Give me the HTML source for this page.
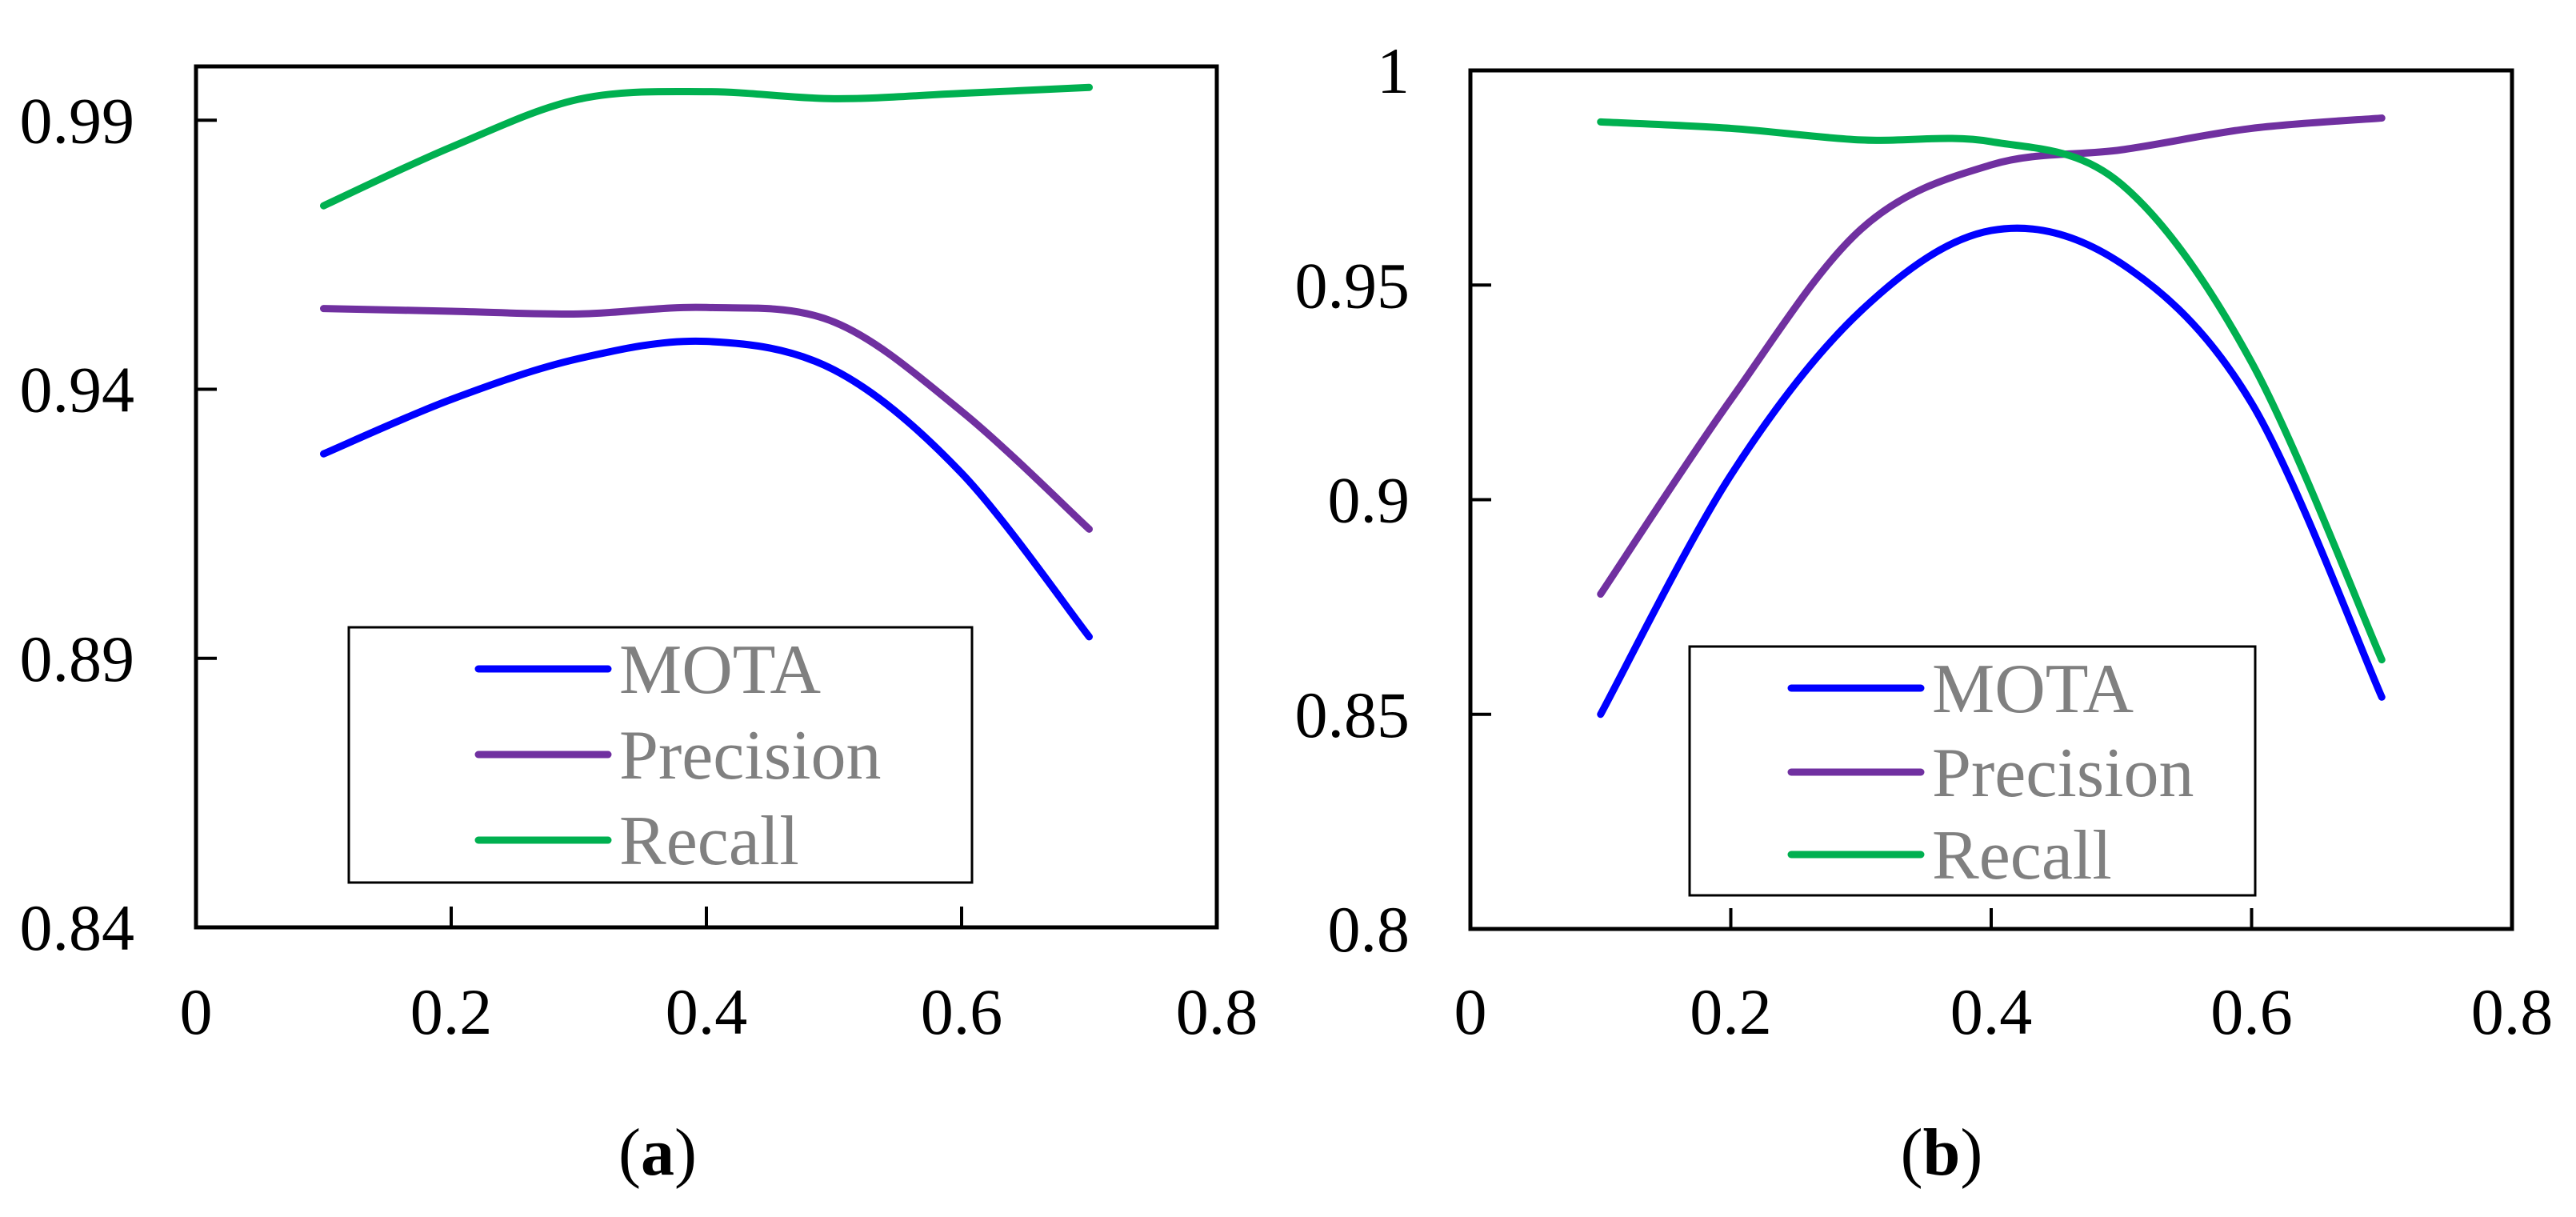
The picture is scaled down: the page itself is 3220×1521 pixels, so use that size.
<!DOCTYPE html>
<html><head><meta charset="utf-8"><style>
html,body{margin:0;padding:0;background:#fff;}
svg{display:block;}
text{font-family:"Liberation Serif",serif;}
</style></head><body>
<svg id="fig" width="3220" height="1521" viewBox="0 0 3220 1521"></svg>
<script>
const xTicks = [0, 0.2, 0.4, 0.6, 0.8];
const xLabels = ["0", "0.2", "0.4", "0.6", "0.8"];
const xVals = [0.1, 0.2, 0.3, 0.4, 0.5, 0.6, 0.7];
const seriesNames = ["MOTA", "Precision", "Recall"];
const aYTicks = [0.84, 0.89, 0.94, 0.99];
const aYLabels = ["0.84", "0.89", "0.94", "0.99"];
const aMota = [0.928, 0.9381, 0.9457, 0.9489, 0.9436, 0.9244, 0.894];
const aPrecision = [0.955, 0.9545, 0.954, 0.9552, 0.9525, 0.9359, 0.914];
const aRecall = [0.9741, 0.985, 0.9939, 0.9953, 0.994, 0.995, 0.9961];
const bYTicks = [0.8, 0.85, 0.9, 0.95, 1];
const bYLabels = ["0.8", "0.85", "0.9", "0.95", "1"];
const bMota = [0.850, 0.9057, 0.944, 0.9627, 0.955, 0.9225, 0.854];
const bPrecision = [0.878, 0.9233, 0.963, 0.978, 0.9815, 0.9865, 0.9889];
const bRecall = [0.988, 0.9865, 0.9838, 0.9834, 0.9735, 0.932, 0.8627];

const NS = "http://www.w3.org/2000/svg";
const svg = document.getElementById("fig");
const colors = ["#0000ff", "#7030a0", "#00b050"];
function mk(tag, attrs, parent) {
  const e = document.createElementNS(NS, tag);
  for (const k in attrs) e.setAttribute(k, attrs[k]);
  (parent || svg).appendChild(e);
  return e;
}
function smooth(pts) {
  let d = "M" + pts[0][0] + "," + pts[0][1];
  for (let i = 0; i < pts.length - 1; i++) {
    const p0 = pts[Math.max(i - 1, 0)], p1 = pts[i], p2 = pts[i + 1], p3 = pts[Math.min(i + 2, pts.length - 1)];
    const c1x = p1[0] + (p2[0] - p0[0]) / 6, c1y = p1[1] + (p2[1] - p0[1]) / 6;
    const c2x = p2[0] - (p3[0] - p1[0]) / 6, c2y = p2[1] - (p3[1] - p1[1]) / 6;
    d += " C" + c1x + "," + c1y + " " + c2x + "," + c2y + " " + p2[0] + "," + p2[1];
  }
  return d;
}
function panel(cfg) {
  const g = mk("g", {});
  
  
  const X = v => cfg.x0 + (v - 0) / 0.8 * (cfg.x1 - cfg.x0);
  const Y = v => cfg.yb - (v - cfg.ymin) / (cfg.ymax - cfg.ymin) * (cfg.yb - cfg.yt);
  cfg.series.forEach((vals, si) => {
    const pts = xVals.map((x, i) => [X(x), Y(vals[i])]);
    const p = mk("path", {d: smooth(pts), fill: "none", stroke: colors[si], "stroke-width": 9, "stroke-linecap": "round"}, g);
    
    
  });
  const box = mk("rect", {x: cfg.x0, y: cfg.yt, width: cfg.x1 - cfg.x0, height: cfg.yb - cfg.yt, fill: "none", stroke: "#000", "stroke-width": 5}, g);
  
  
  xTicks.forEach((t, i) => {
    const tk = mk("line", {x1: X(t), x2: X(t), y1: cfg.yb, y2: cfg.yb - 26, stroke: "#000", "stroke-width": 4}, g);
    
    
    const tx = mk("text", {x: X(t), y: 1292, "text-anchor": "middle", "font-size": 82}, g);
    tx.textContent = xLabels[i];
    
    
  });
  cfg.yTicks.forEach((t, i) => {
    const tk = mk("line", {x1: cfg.x0, x2: cfg.x0 + 26, y1: Y(t), y2: Y(t), stroke: "#000", "stroke-width": 4}, g);
    
    
    const tx = mk("text", {x: cfg.labelRight, y: Y(t) + 28, "text-anchor": "end", "font-size": 82}, g);
    tx.textContent = cfg.yLabels[i];
    
    
  });
  const L = cfg.legend;
  const lg = mk("g", {}, g);
  
  
  mk("rect", {x: L.x, y: L.y, width: L.w, height: L.h, fill: "#fff", stroke: "#000", "stroke-width": 3}, lg);
  seriesNames.forEach((n, i) => {
    const yy = L.ly[i];
    const ln = mk("line", {x1: L.lx0, x2: L.lx1, y1: yy, y2: yy, stroke: colors[i], "stroke-width": 9, "stroke-linecap": "round"}, lg);
    
    
    const tx = mk("text", {x: L.lx1 + 14, y: yy + 30, "font-size": 88, fill: "#808080"}, lg);
    tx.textContent = n;
    
    
  });
  const cap = mk("text", {x: cfg.capX, y: 1468, "text-anchor": "middle", "font-size": 84}, g);
  cap.innerHTML = '(<tspan font-weight="bold">' + cfg.cap + '</tspan>)';
  
  
}
panel({name: "chart-a", x0: 245, x1: 1521, yt: 83, yb: 1159, ymin: 0.84, ymax: 1.0,
  yTicks: aYTicks, yLabels: aYLabels, series: [aMota, aPrecision, aRecall], labelRight: 168,
  legend: {x: 436, y: 784, w: 779, h: 319, lx0: 598, lx1: 760, ly: [836, 943, 1050]}, capX: 822, cap: "a"});
panel({name: "chart-b", x0: 1838, x1: 3140, yt: 88, yb: 1161, ymin: 0.8, ymax: 1.0,
  yTicks: bYTicks, yLabels: bYLabels, series: [bMota, bPrecision, bRecall], labelRight: 1762,
  legend: {x: 2112, y: 808, w: 707, h: 311, lx0: 2239, lx1: 2401, ly: [860, 965, 1068]}, capX: 2427, cap: "b"});
</script>
</body></html>
